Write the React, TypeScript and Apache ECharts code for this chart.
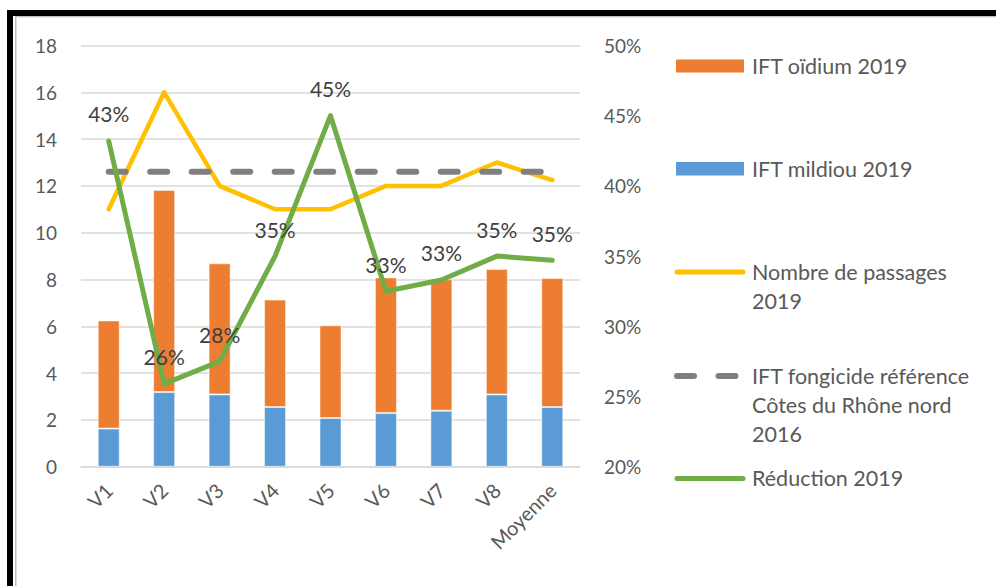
import { useEffect, useRef } from "react";
import * as echarts from "echarts";

const categories = ["V1", "V2", "V3", "V4", "V5", "V6", "V7", "V8", "Moyenne"];
const iftMildiou = [1.63, 3.19, 3.09, 2.55, 2.08, 2.29, 2.39, 3.09, 2.55];
const iftOidium = [4.62, 8.64, 5.6, 4.59, 3.96, 5.8, 5.62, 5.36, 5.51];
const nombrePassages = [11, 16, 12, 11, 11, 12, 12, 13, 12.25];
const iftReference = [12.6, 12.6, 12.6, 12.6, 12.6, 12.6, 12.6, 12.6, 12.6];
const reduction = [43.2, 25.9, 27.5, 35.0, 45.0, 32.5, 33.3, 35.0, 34.7];
const leftAxis = { min: 0, max: 18, interval: 2 };
const rightAxis = { min: 20, max: 50, interval: 5 };
const seriesNames = [
  "IFT oïdium 2019",
  "IFT mildiou 2019",
  "Nombre de passages\n2019",
  "IFT fongicide référence\nCôtes du Rhône nord\n2016",
  "Réduction 2019",
];

const FONT = "Lato, 'Noto Sans', sans-serif";
const C_ORANGE = "#ED7D31";
const C_BLUE = "#5B9BD5";
const C_YELLOW = "#FFC000";
const C_GRAY = "#7F7F7F";
const C_GREEN = "#70AD47";
const C_TEXT = "#595959";

export default function App() {
  const ref = useRef<HTMLDivElement>(null);
  useEffect(() => {
    document.body.style.margin = "0";
    const chart = echarts.init(ref.current!, null, { renderer: "svg" });
    const legendText = (text: string, y: number) => ({
      type: "text",
      x: 752,
      y: y - 14.5,
      style: {
        text,
        fill: C_TEXT,
        font: `21.5px ${FONT}`,
        lineHeight: 29,
        verticalAlign: "top",
        align: "left",
      },
    });
    chart.setOption({
      animation: false,
      backgroundColor: "#ffffff",
      grid: { left: 81, right: 416, top: 45.5, bottom: 119.3, containLabel: false },
      xAxis: {
        type: "category",
        data: categories,
        axisLine: { lineStyle: { color: "#d9d9d9", width: 1.5 } },
        axisTick: { show: false },
        axisLabel: {
          rotate: 45,
          color: C_TEXT,
          fontSize: 20,
          fontFamily: FONT,
          margin: 20,
          interval: 0,
        },
      },
      yAxis: [
        {
          type: "value",
          ...leftAxis,
          axisLine: { show: false },
          axisTick: { show: false },
          splitLine: { lineStyle: { color: "#d9d9d9", width: 1.5 } },
          axisLabel: { color: C_TEXT, fontSize: 19, fontFamily: FONT, margin: 24 },
        },
        {
          type: "value",
          ...rightAxis,
          axisLine: { show: false },
          axisTick: { show: false },
          splitLine: { show: false },
          axisLabel: {
            color: C_TEXT,
            fontSize: 19,
            fontFamily: FONT,
            margin: 24,
            formatter: "{value}%",
          },
        },
      ],
      series: [
        {
          name: "IFT mildiou 2019",
          type: "bar",
          stack: "ift",
          data: iftMildiou,
          barWidth: 22,
          itemStyle: { color: C_BLUE, borderColor: "rgba(255,255,255,0.5)", borderWidth: 1 },
        },
        {
          name: "IFT oïdium 2019",
          type: "bar",
          stack: "ift",
          data: iftOidium,
          barWidth: 22,
          itemStyle: { color: C_ORANGE, borderColor: "rgba(255,255,255,0.5)", borderWidth: 1 },
        },
        {
          name: "Nombre de passages 2019",
          type: "line",
          data: nombrePassages,
          symbol: "none",
          lineStyle: { color: C_YELLOW, width: 4.5, cap: "round", join: "round" },
        },
        {
          name: "IFT fongicide référence Côtes du Rhône nord 2016",
          type: "line",
          data: iftReference,
          symbol: "none",
          lineStyle: {
            color: C_GRAY,
            width: 6,
            type: [17, 24.5],
            cap: "round",
          },
        },
        {
          name: "Réduction 2019",
          type: "line",
          yAxisIndex: 1,
          data: reduction,
          symbol: "circle",
          symbolSize: 1,
          itemStyle: { color: C_GREEN },
          lineStyle: { color: C_GREEN, width: 5, cap: "round", join: "round" },
          label: {
            show: true,
            position: "top",
            distance: 16,
            color: "#404040",
            fontSize: 21,
            fontFamily: FONT,
            formatter: (p: any) => Math.round(p.value) + "%",
          },
          z: 5,
        },
      ],
      graphic: [
        { type: "rect", shape: { x: 7, y: 10, width: 989, height: 6 }, style: { fill: "#000" } },
        { type: "rect", shape: { x: 7, y: 10, width: 6, height: 576 }, style: { fill: "#000" } },
        { type: "rect", shape: { x: 15, y: 16, width: 981, height: 1.2 }, style: { fill: "#c0c0c0" } },
        { type: "rect", shape: { x: 15, y: 16, width: 1.5, height: 570 }, style: { fill: "#c0c0c0" } },
        { type: "rect", shape: { x: 676, y: 59.5, width: 68, height: 13 }, style: { fill: C_ORANGE } },
        legendText(seriesNames[0], 66),
        { type: "rect", shape: { x: 676, y: 162, width: 68, height: 13.5 }, style: { fill: C_BLUE } },
        legendText(seriesNames[1], 169),
        {
          type: "line",
          shape: { x1: 677, y1: 272, x2: 743, y2: 272 },
          style: { stroke: C_YELLOW, lineWidth: 5, lineCap: "round" },
        },
        legendText(seriesNames[2], 271.5),
        {
          type: "line",
          shape: { x1: 677, y1: 376, x2: 743, y2: 376 },
          style: { stroke: C_GRAY, lineWidth: 6, lineCap: "round", lineDash: [17, 24.5] },
        },
        legendText(seriesNames[3], 376),
        {
          type: "line",
          shape: { x1: 677, y1: 478.5, x2: 743, y2: 478.5 },
          style: { stroke: C_GREEN, lineWidth: 5, lineCap: "round" },
        },
        legendText(seriesNames[4], 478),
      ],
    });
    return () => chart.dispose();
  }, []);
  return <div ref={ref} style={{ width: 996, height: 586 }} />;
}
